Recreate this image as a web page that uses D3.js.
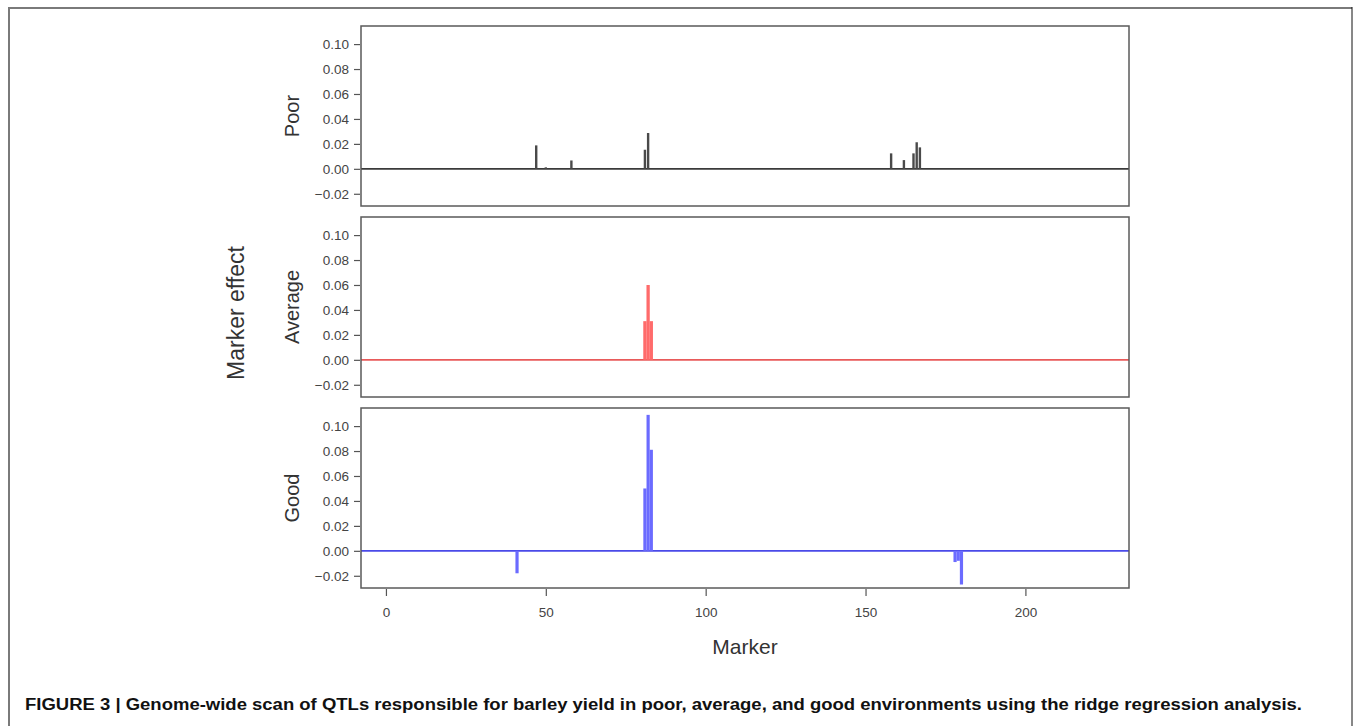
<!DOCTYPE html>
<html><head><meta charset="utf-8">
<script src="https://cdn.jsdelivr.net/npm/d3@7"></script>
<style>body{margin:0;background:#fff}svg{display:block}</style>
</head><body>
<svg id="c" width="1355" height="726"></svg>
<script>
// ---- data ----
const panelNames = ["Poor", "Average", "Good"];
const xTicks = [0, 50, 100, 150, 200];
const yTicks = [-0.02, 0.00, 0.02, 0.04, 0.06, 0.08, 0.10];
const poorMarkers  = [47, 50, 58, 81, 82, 158, 162, 165, 166, 167];
const poorEffects  = [0.0188, 0.0012, 0.0067, 0.0153, 0.0287, 0.0124, 0.0070, 0.0124, 0.0213, 0.0172];
const avgMarkers   = [81, 82, 83];
const avgEffects   = [0.031, 0.060, 0.031];
const goodMarkers  = [41, 81, 82, 83, 178, 179, 180];
const goodEffects  = [-0.018, 0.050, 0.109, 0.081, -0.009, -0.008, -0.027];
const caption = "FIGURE 3 | Genome-wide scan of QTLs responsible for barley yield in poor, average, and good environments using the ridge regression analysis.";

const series = [
  {name: panelNames[0], m: poorMarkers, v: poorEffects, bar: "#4a4a4a", zero: "#3a3a3a", w: 2.4},
  {name: panelNames[1], m: avgMarkers,  v: avgEffects,  bar: "#ff6b6b", zero: "#e85a5a", w: 3.3},
  {name: panelNames[2], m: goodMarkers, v: goodEffects, bar: "#6b6bff", zero: "#4a4ae8", w: 3.2}
];

const svg = d3.select("#c");
const font = "'Liberation Sans', Arial, sans-serif";

// outer frame
svg.append("line").attr("x1",9).attr("x2",9).attr("y1",7).attr("y2",726).attr("stroke","#7a7a7a").attr("stroke-width",2);
svg.append("line").attr("x1",8).attr("x2",1352).attr("y1",8).attr("y2",8).attr("stroke","#7a7a7a").attr("stroke-width",2);
svg.append("line").attr("x1",1352).attr("x2",1352).attr("y1",7).attr("y2",726).attr("stroke","#111").attr("stroke-width",1);

const left = 361, right = 1129;
const x = d3.scaleLinear().domain([-7.8, 232.4]).range([left, right]);
const tops = [26, 217, 408];
const ph = 180;

series.forEach((s, i) => {
  const t = tops[i];
  const y = d3.scaleLinear().domain([-0.0298, 0.1145]).range([t + ph, t]);
  const g = svg.append("g");
  g.append("line").attr("x1", left).attr("x2", right).attr("y1", y(0)).attr("y2", y(0))
    .attr("stroke", s.zero).attr("stroke-width", 1.6);
  g.selectAll("line.bar").data(s.m.map((m, k) => ({m, v: s.v[k]}))).enter().append("line")
    .attr("class","bar")
    .attr("x1", d => x(d.m)).attr("x2", d => x(d.m))
    .attr("y1", y(0)).attr("y2", d => y(d.v))
    .attr("stroke", s.bar).attr("stroke-width", s.w);
  g.append("rect").attr("x", left).attr("y", t).attr("width", right - left).attr("height", ph)
    .attr("fill","none").attr("stroke","#5a5a5a").attr("stroke-width",1.5);
  const ya = d3.axisLeft(y).tickValues(yTicks).tickFormat(d3.format(".2f")).tickSize(6).tickPadding(5);
  const ag = g.append("g").attr("transform", `translate(${left - 1},0)`).call(ya);
  ag.select(".domain").remove();
  ag.selectAll("line").attr("stroke","#555").attr("stroke-width",1.2);
  ag.selectAll("text").attr("font-family", font).attr("font-size", 13.5).attr("fill","#444");
  g.append("text").attr("transform", `translate(299,${t + ph/2}) rotate(-90)`)
    .attr("text-anchor","middle").attr("font-family", font).attr("font-size", 20).attr("fill","#333")
    .text(s.name);
  if (i === 2) {
    const xa = d3.axisBottom(x).tickValues(xTicks).tickSize(7).tickPadding(11);
    const xg = g.append("g").attr("transform", `translate(0,${t + ph + 1})`).call(xa);
    xg.select(".domain").remove();
    xg.selectAll("line").attr("stroke","#555").attr("stroke-width",1.2);
    xg.selectAll("text").attr("font-family", font).attr("font-size", 13.5).attr("fill","#444");
  }
});

svg.append("text").attr("transform","translate(244,313) rotate(-90)").attr("text-anchor","middle")
  .attr("font-family", font).attr("font-size", 23).attr("fill","#333").text("Marker effect");
svg.append("text").attr("x",745).attr("y",654).attr("text-anchor","middle")
  .attr("font-family", font).attr("font-size", 21).attr("fill","#333").text("Marker");

svg.append("text").attr("x",25).attr("y",710)
  .attr("font-family","'Liberation Sans Narrow', 'Liberation Sans', Arial, sans-serif")
  .attr("font-weight","bold").attr("font-size",16).attr("fill","#111")
  .attr("textLength",1277).attr("lengthAdjust","spacingAndGlyphs")
  .text(caption);
</script>
</body></html>
